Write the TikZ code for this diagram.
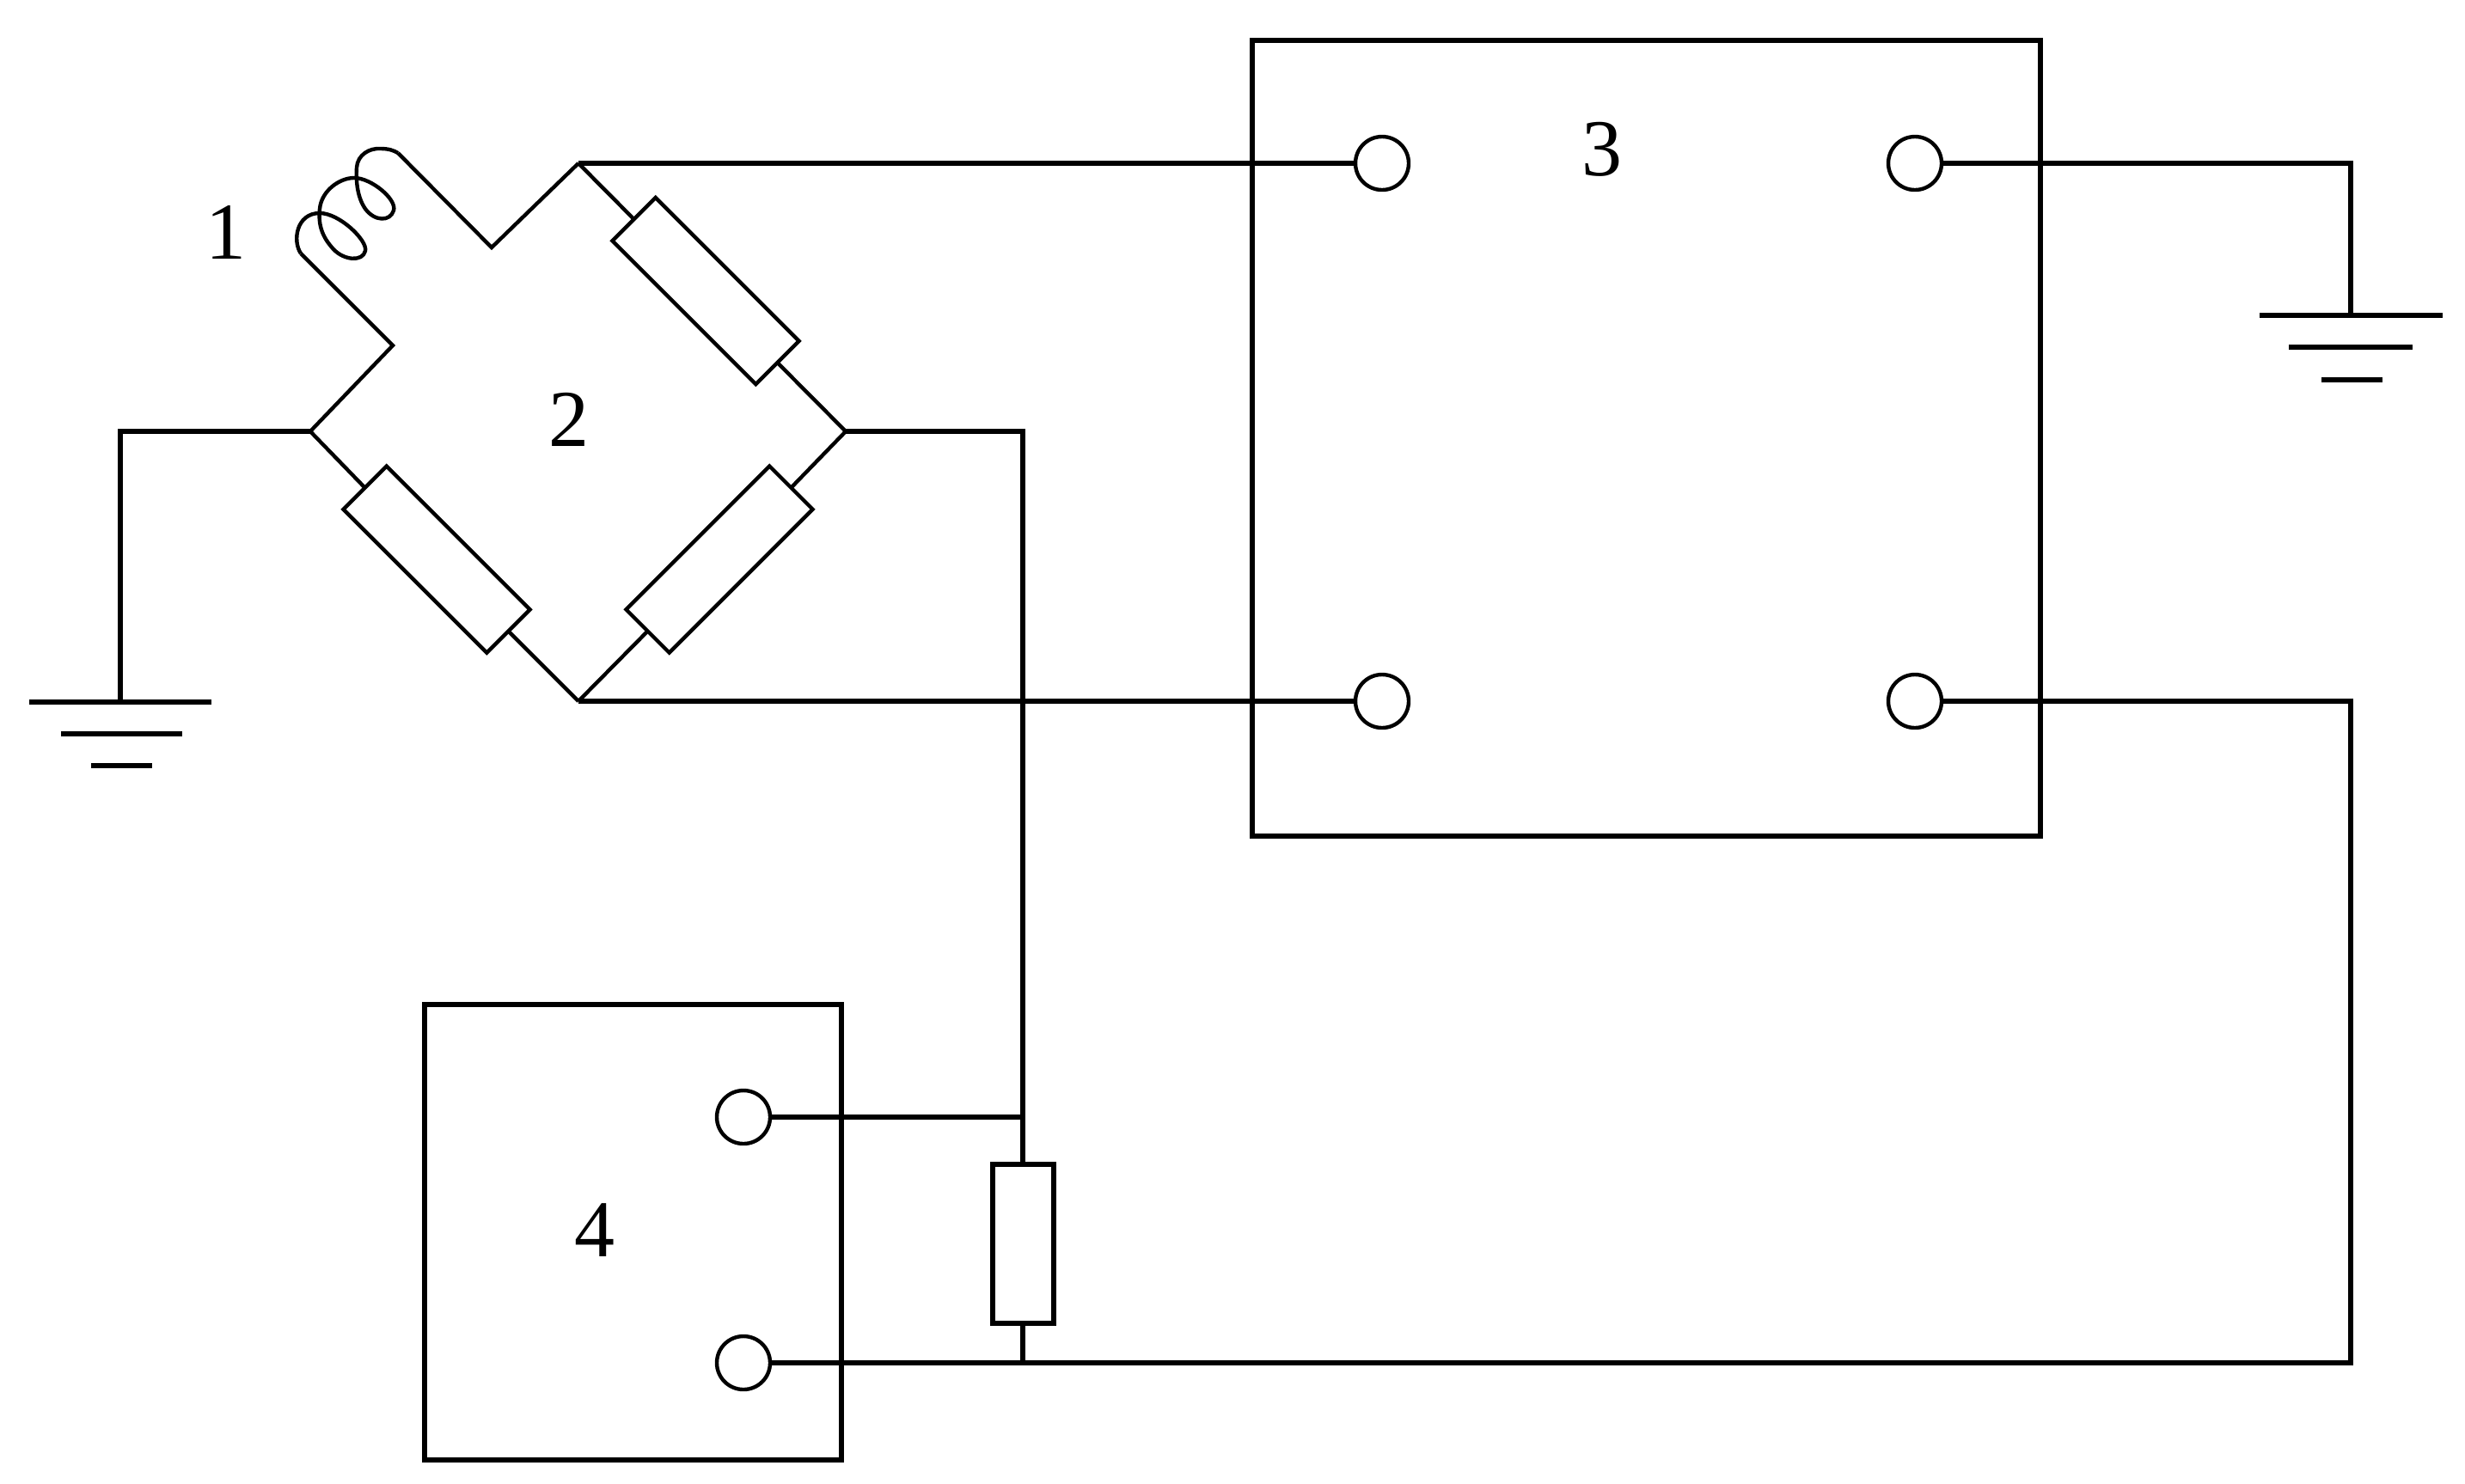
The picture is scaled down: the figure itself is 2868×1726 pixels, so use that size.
\documentclass[tikz,border=0pt]{standalone}
\usepackage{fontspec}
\setmainfont{Liberation Serif}
\begin{document}
\begin{tikzpicture}[x=0.5pt,y=-0.5pt,
  wire/.style={line width=2.8pt,line join=miter,line cap=butt},
  diag/.style={line width=2.2pt,line join=miter,line cap=butt},
  unitbox/.style={draw,rectangle,line width=2.7pt,outer sep=0pt,inner sep=0pt},
  terminal/.style={draw,circle,line width=2.2pt,minimum size=31pt,inner sep=0pt,outer sep=0pt},
  resdiag/.style={draw,rectangle,line width=2.2pt,minimum width=118pt,minimum height=35.5pt,inner sep=0pt,outer sep=0pt},
  resvert/.style={draw,rectangle,line width=3pt,minimum width=35.5pt,minimum height=92.5pt,inner sep=0pt,outer sep=0pt},
  numlabel/.style={font=\fontsize{47pt}{47pt}\selectfont,inner sep=0pt,outer sep=0pt}]
\useasboundingbox (0,0) rectangle (2868,1726);

% units
\node[unitbox,minimum width=458.5pt,minimum height=463pt] (unit3) at (1915.5,510) {};
\node[unitbox,minimum width=242.5pt,minimum height=265pt] (unit4) at (736.5,1434) {};

% terminals
\node[terminal] (t3a) at (1608,190) {};
\node[terminal] (t3b) at (2228,190) {};
\node[terminal] (t3c) at (1608,816) {};
\node[terminal] (t3d) at (2228,816) {};
\node[terminal] (t4a) at (865,1300) {};
\node[terminal] (t4b) at (865,1586) {};

% bridge vertices and routing points
\coordinate (vL) at (361,502);
\coordinate (vT) at (673,190);
\coordinate (vR) at (984,502);
\coordinate (vB) at (673,816);
\coordinate (k1) at (457,402);
\coordinate (k2) at (572,288);
\coordinate (cS) at (350,295);
\coordinate (cE) at (463,178);

% bridge resistors
\node[resdiag,rotate=-45] (r1) at (821,338.5) {};
\node[resdiag,rotate=-45] (r2) at (508,651) {};
\node[resdiag,rotate=45] (r3) at (837,651) {};
\node[resvert] (r4) at (1190,1447) {};

% coil arm
\draw[diag] (vL) -- (k1) -- (cS);
\draw[diag,line join=round] (cS)
  .. controls (340,280) and (345,248) .. (372,248)
  .. controls (395,248) and (428,280) .. (425,292)
  .. controls (422,305) and (400,303) .. (388,290)
  .. controls (375,276) and (370,262) .. (372,243)
  .. controls (374,222) and (395,207) .. (412,207)
  .. controls (432,207) and (462,232) .. (458,245)
  .. controls (454,258) and (436,258) .. (425,243)
  .. controls (416,230) and (414,212) .. (415,195)
  .. controls (416,180) and (430,172) .. (443,173)
  .. controls (452,173) and (458,175) .. (cE);
\draw[diag] (cE) -- (k2) -- (vT);

% bridge legs
\draw[diag] (vT) -- (r1.west);
\draw[diag] (r1.east) -- (vR);
\draw[diag] (vL) -- (r2.west);
\draw[diag] (r2.east) -- (vB);
\draw[diag] (vB) -- (r3.west);
\draw[diag] (r3.east) -- (vR);

% wires to unit 3
\draw[wire] (vT) -- (t3a.west);
\draw[wire] (vB) -- (t3c.west);

% left ground
\coordinate (gL) at (140,817);
\draw[wire] (vL) -- (140,502) -- (gL);
\coordinate (gL1a) at (34,817); \coordinate (gL1b) at (246,817);
\coordinate (gL2a) at (71,854); \coordinate (gL2b) at (212,854);
\coordinate (gL3a) at (106,891); \coordinate (gL3b) at (177,891);
\draw[wire] (gL1a) -- (gL1b);
\draw[wire] (gL2a) -- (gL2b);
\draw[wire] (gL3a) -- (gL3b);

% right ground
\coordinate (gR) at (2735,367);
\draw[wire] (t3b.east) -- (2735,190) -- (gR);
\coordinate (gR1a) at (2629,367); \coordinate (gR1b) at (2842,367);
\coordinate (gR2a) at (2663,404); \coordinate (gR2b) at (2807,404);
\coordinate (gR3a) at (2701,442); \coordinate (gR3b) at (2772,442);
\draw[wire] (gR1a) -- (gR1b);
\draw[wire] (gR2a) -- (gR2b);
\draw[wire] (gR3a) -- (gR3b);

% shunt and unit 4
\coordinate (jA) at (1190,1300);
\coordinate (jB) at (1190,1586);
\draw[wire] (vR) -- (1190,502) -- (jA) -- (r4.north);
\draw[wire] (r4.south) -- (jB);
\draw[wire] (t4a.east) -- (jA);
\draw[wire] (t4b.east) -- (2735,1586) -- (2735,816) -- (t3d.east);

% labels
\node[numlabel] (n1) at (263,270) {1};
\node[numlabel] (n2) at (662,488) {2};
\node[numlabel] (n3) at (1864,174) {3};
\node[numlabel] (n4) at (692,1432) {4};
\end{tikzpicture}
\end{document}
